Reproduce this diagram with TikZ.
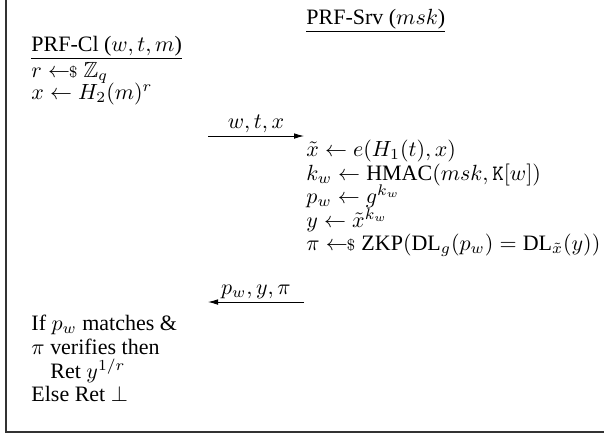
\documentclass[tikz,border=0pt]{standalone}
\usepackage{amsmath,amssymb}
\usepackage{fontspec}
\setmainfont{Liberation Serif}
\usetikzlibrary{arrows.meta}
\newcommand{\getsr}{\mathrel{\leftarrow\!\!{\scriptstyle\$}}}

\begin{document}
\begin{tikzpicture}[x=0.455pt,y=-0.455pt,
  line/.style={anchor=base west,inner sep=0pt},
  msg/.style={-{Latex[length=1.6mm,width=0.9mm]},thin},
  lbl/.style={above,inner sep=1.5pt},
  frame/.style={line width=0.55pt,draw=black!80}
]
\useasboundingbox (0,0) rectangle (604,438);
\draw[frame] (6,0) -- (6,432) -- (604,432);
% headers
\node[line] (srvhead) at (306,24) {\underline{PRF-Srv ($msk$)}};
\node[line] (clhead) at (31,51) {\underline{PRF-Cl ($w,t,m$)}};
% client, first part
\node[line] (clsamp) at (31,77) {$r \getsr \mathbb{Z}_q$};
\node[line] (clblind) at (31,99) {$x \leftarrow H_2(m)^r$};
% request
\coordinate (creq) at (208,136);
\coordinate (sreq) at (304,136);
\draw[msg] (creq) -- (sreq) node[lbl,midway] (reqlbl) {$w,t,x$};
% server
\node[line] (srvtilde) at (306,156) {$\tilde{x} \leftarrow e(H_1(t),x)$};
\node[line] (srvkey) at (306,180) {$k_w \leftarrow \text{HMAC}(msk,\mathtt{K}[w])$};
\node[line] (srvpub) at (306,203) {$p_w \leftarrow g^{k_w}$};
\node[line] (srveval) at (306,227) {$y \leftarrow \tilde{x}^{k_w}$};
\node[line] (srvproof) at (306,250) {$\pi \getsr \text{ZKP}(\text{DL}_g(p_w) = \text{DL}_{\tilde{x}}(y))$};
% response
\coordinate (sres) at (304,302);
\coordinate (cres) at (208,302);
\draw[msg] (sres) -- (cres) node[lbl,midway] (reslbl) {$p_w,y,\pi$};
% client, second part
\node[line] (clcheck) at (31,330) {If $p_w$ matches \&};
\node[line] (clverify) at (31,354) {$\pi$ verifies then};
\node[line] (clret) at (50,378) {Ret $y^{1/r}$};
\node[line] (clelse) at (31,401) {Else Ret $\bot$};
\end{tikzpicture}
\end{document}
